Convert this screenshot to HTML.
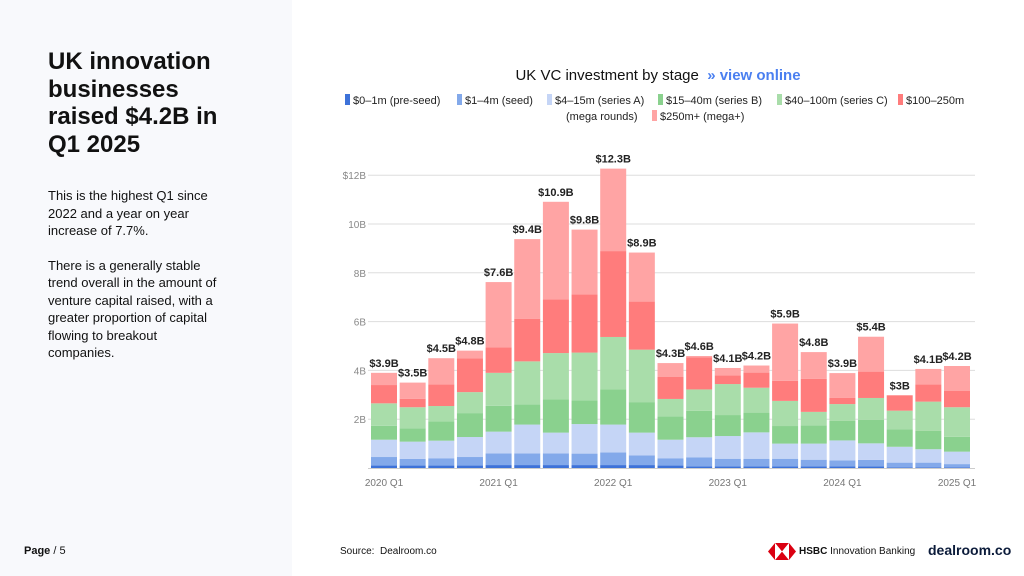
<!DOCTYPE html>
<html><head><meta charset="utf-8"><style>
body{margin:0;width:1024px;height:576px;position:relative;background:#fff;font-family:"Liberation Sans",sans-serif;overflow:hidden}
.left{position:absolute;left:0;top:0;width:292px;height:576px;background:#f8f9fc}
h1{position:absolute;left:48px;top:48px;margin:0;font-size:24px;line-height:27.5px;font-weight:bold;color:#111;width:178px}
.body{position:absolute;left:48px;top:187px;width:230px;font-size:13px;line-height:17.5px;color:#111;white-space:nowrap}
.body p{margin:0 0 17px 0}
.abs{position:absolute}
</style></head><body>
<div class="left"></div>
<h1>UK innovation businesses raised $4.2B in Q1 2025</h1>
<div class="body">
<p>This is the highest Q1 since<br>2022 and a year on year<br>increase of 7.7%.</p>
<p>There is a generally stable<br>trend overall in the amount of<br>venture capital raised, with a<br>greater proportion of capital<br>flowing to breakout<br>companies.</p>
</div>
<div class="abs" style="left:24px;top:545px;font-size:11px;color:#111"><b>Page</b> / 5</div>
<div class="abs" style="left:340px;top:546px;font-size:10px;color:#111">Source:&nbsp; Dealroom.co</div>
<div class="abs" style="left:768px;top:543px;width:28px;height:17px">
<svg width="28" height="17"><polygon points="0,8.5 7,0 7,17" fill="#db0011"/><polygon points="28,8.5 21,0 21,17" fill="#db0011"/><polygon points="7,0 21,0 14,8.5" fill="#db0011"/><polygon points="7,17 21,17 14,8.5" fill="#db0011"/><polygon points="7,0 14,8.5 7,17" fill="#fff"/><polygon points="21,0 14,8.5 21,17" fill="#fff"/></svg></div>
<div class="abs" style="left:799px;top:546px;font-size:10px;color:#111"><b>HSBC</b> Innovation Banking</div>
<div class="abs" style="left:928px;top:542px;font-size:14px;font-weight:bold;color:#0b1b3a">dealroom.co</div>

<div class="abs" style="left:340px;top:67px;width:636px;text-align:center;font-size:15px;color:#111">UK VC investment by stage&nbsp; <a style="color:#4a7ff0;font-weight:bold;text-decoration:none">» view online</a></div>

<svg id="chart" class="abs" style="left:0;top:0" width="1024" height="576"></svg>
<script>
const categories=["2020 Q1","2020 Q2","2020 Q3","2020 Q4","2021 Q1","2021 Q2","2021 Q3","2021 Q4","2022 Q1","2022 Q2","2022 Q3","2022 Q4","2023 Q1","2023 Q2","2023 Q3","2023 Q4","2024 Q1","2024 Q2","2024 Q3","2024 Q4","2025 Q1"];
const totalLabels=["$3.9B","$3.5B","$4.5B","$4.8B","$7.6B","$9.4B","$10.9B","$9.8B","$12.3B","$8.9B","$4.3B","$4.6B","$4.1B","$4.2B","$5.9B","$4.8B","$3.9B","$5.4B","$3B","$4.1B","$4.2B"];
const preSeed=[0.1,0.1,0.1,0.1,0.12,0.12,0.12,0.12,0.12,0.12,0.1,0.06,0.06,0.06,0.06,0.06,0.06,0.06,0.03,0.03,0.03];
const seed=[0.35,0.27,0.3,0.35,0.48,0.48,0.48,0.47,0.52,0.4,0.3,0.38,0.32,0.32,0.32,0.28,0.25,0.27,0.19,0.19,0.13];
const seriesA=[0.71,0.71,0.72,0.82,0.89,1.18,0.85,1.21,1.14,0.93,0.76,0.82,0.93,1.08,0.62,0.66,0.82,0.68,0.65,0.55,0.51];
const seriesB=[0.57,0.55,0.79,0.98,1.06,0.82,1.36,0.97,1.44,1.25,0.96,1.08,0.86,0.81,0.72,0.75,0.81,0.97,0.71,0.76,0.61];
const seriesC=[0.92,0.86,0.63,0.86,1.35,1.77,1.9,1.96,2.15,2.15,0.71,0.88,1.27,1.02,1.03,0.55,0.68,0.89,0.77,1.19,1.21];
const megaRounds=[0.75,0.35,0.88,1.38,1.05,1.75,2.2,2.39,3.52,1.97,0.9,1.32,0.36,0.62,0.82,1.35,0.25,1.08,0.63,0.7,0.68];
const megaPlus=[0.5,0.66,1.08,0.32,2.67,3.26,4.0,2.65,3.38,2.01,0.57,0.05,0.3,0.29,2.35,1.1,1.02,1.43,0,0.64,1.01];
const yTicks=[2,4,6,8,10,12];
const yTickLabels=["2B","4B","6B","8B","10B","$12B"];
const xTickLabels=["2020 Q1","2021 Q1","2022 Q1","2023 Q1","2024 Q1","2025 Q1"];
const legendNames=["$0–1m (pre-seed)","$1–4m (seed)","$4–15m (series A)","$15–40m (series B)","$40–100m (series C)","$100–250m (mega rounds)","$250m+ (mega+)"];
const series=[preSeed,seed,seriesA,seriesB,seriesC,megaRounds,megaPlus];
const colors=["#3d72d9","#83a9ea","#c5d5f6","#8ad18e","#a9ddaa","#ff7c7c","#ffa4a4"];
const svg=document.getElementById('chart');const NS="http://www.w3.org/2000/svg";
const y0=468,pxPer=24.4,x0=384,step=28.65,bw=26;
const yScale=v=>y0-v*pxPer;const xScale=i=>x0+i*step;
function mk(t,a){const e=document.createElementNS(NS,t);for(const k in a)e.setAttribute(k,a[k]);svg.appendChild(e);return e;}
yTicks.forEach((t,i)=>{const g=mk('line',{x1:368,x2:975,y1:yScale(t),y2:yScale(t),stroke:'#ddd','stroke-width':1});


const l=mk('text',{x:366,y:yScale(t)+4,'text-anchor':'end','font-size':10,fill:'#888'});l.textContent=yTickLabels[i];

});
categories.forEach((c,i)=>{let acc=0;series.forEach((s,k)=>{const v=s[i];if(v<=0)return;const r=mk('rect',{x:xScale(i)-bw/2,y:yScale(acc+v),width:bw,height:v*pxPer,fill:colors[k]});


acc+=v;});
const t=mk('text',{x:xScale(i),y:yScale(acc)-6,'text-anchor':'middle','font-size':11,'font-weight':'bold',fill:'#222'});t.textContent=totalLabels[i];

});
mk('line',{x1:368,x2:975,y1:y0+0.5,y2:y0+0.5,stroke:'#ccc'});
xTickLabels.forEach(l=>{const i=categories.indexOf(l);const t=mk('text',{x:xScale(i),y:486,'text-anchor':'middle','font-size':10,fill:'#777'});t.textContent=l;

});
const lx=[345,457,547,658,777,898,652],ly=[103,103,103,103,103,103,119];
legendNames.forEach((n,k)=>{const r=mk('rect',{x:lx[k],y:ly[k]-9,width:5,height:11,fill:colors[k]});


const t=mk('text',{x:lx[k]+8,y:ly[k]+1,'font-size':11,fill:'#222'});


if(k===5){t.textContent="$100–250m";const t2=mk('text',{x:566,y:ly[6]+1,'font-size':11,fill:'#222'});t2.textContent="(mega rounds)";

}else t.textContent=n;});
</script>
</body></html>
